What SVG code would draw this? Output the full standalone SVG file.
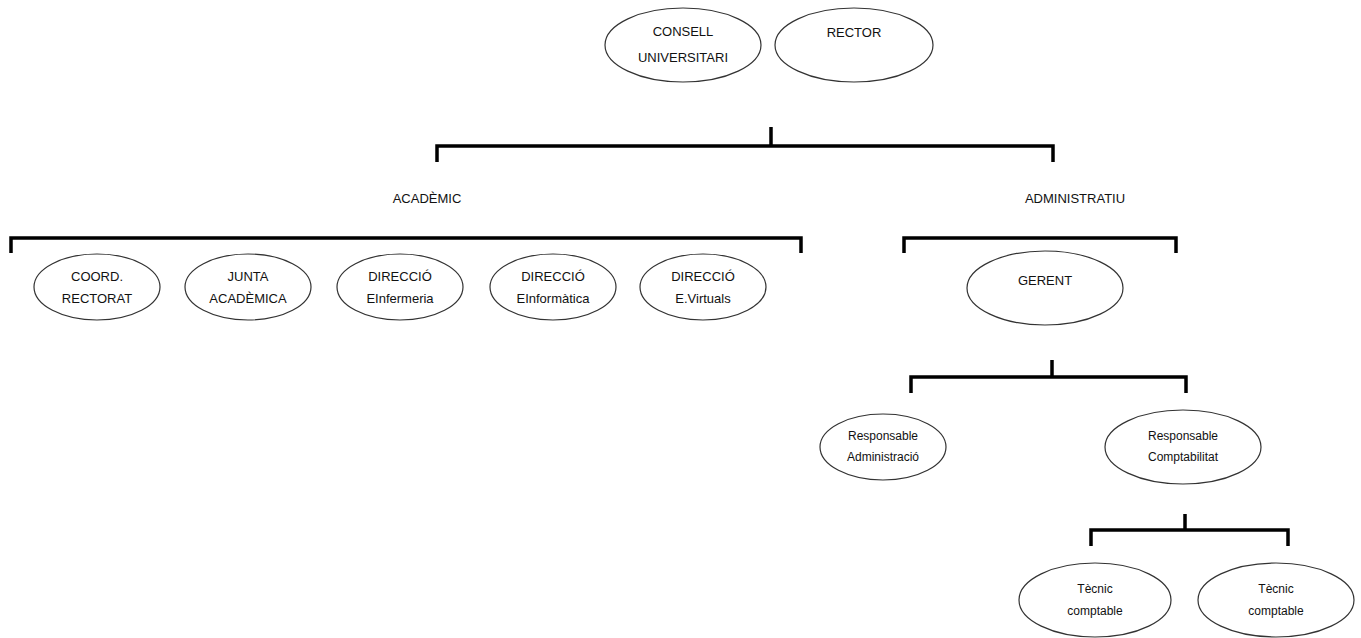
<svg xmlns="http://www.w3.org/2000/svg" width="1361" height="638" viewBox="0 0 1361 638">
<style>
.n{fill:#fff;stroke:#333;stroke-width:1.2}
.t{font-family:"Liberation Sans",Arial,sans-serif;font-size:13px;fill:#111;text-anchor:middle}
.s{font-size:12px}
.b{fill:none;stroke:#000;stroke-width:3.5;stroke-linecap:butt;stroke-linejoin:miter}
</style>
<rect width="1361" height="638" fill="#fff"/>
<g id="connectors">
<path class="b" d="M771 127V146M437 162V146H1053V162"/>
<path class="b" d="M11 253V238H801V253"/>
<path class="b" d="M904 253V238H1176V253"/>
<path class="b" d="M1052 360V377M911 393V377H1186V393"/>
<path class="b" d="M1185 514V530M1091 546V530H1288V546"/>
</g>
<g id="consell"><ellipse class="n" cx="683" cy="45" rx="78" ry="37"/><text class="t" x="683" y="36">CONSELL</text><text class="t" x="683" y="62">UNIVERSITARI</text></g>
<g id="rector"><ellipse class="n" cx="854" cy="45" rx="79" ry="37"/><text class="t" x="854" y="37">RECTOR</text></g>
<g id="academic"><text class="t" x="427" y="203">ACADÈMIC</text></g>
<g id="administratiu"><text class="t" x="1075" y="203">ADMINISTRATIU</text></g>
<g id="coord"><ellipse class="n" cx="97" cy="287" rx="63" ry="33"/><text class="t" x="97" y="281">COORD.</text><text class="t" x="97" y="303">RECTORAT</text></g>
<g id="junta"><ellipse class="n" cx="248" cy="287" rx="63" ry="33"/><text class="t" x="248" y="281">JUNTA</text><text class="t" x="248" y="303">ACADÈMICA</text></g>
<g id="infermeria"><ellipse class="n" cx="400" cy="287" rx="63" ry="33"/><text class="t" x="400" y="281">DIRECCIÓ</text><text class="t" x="400" y="303">EInfermeria</text></g>
<g id="informatica"><ellipse class="n" cx="553" cy="287" rx="63" ry="33"/><text class="t" x="553" y="281">DIRECCIÓ</text><text class="t" x="553" y="303">EInformàtica</text></g>
<g id="virtuals"><ellipse class="n" cx="703" cy="287" rx="63" ry="33"/><text class="t" x="703" y="281">DIRECCIÓ</text><text class="t" x="703" y="303">E.Virtuals</text></g>
<g id="gerent"><ellipse class="n" cx="1045" cy="288" rx="78" ry="37"/><text class="t" x="1045" y="285">GERENT</text></g>
<g id="resp-admin"><ellipse class="n" cx="883" cy="447" rx="63" ry="33"/><text class="t s" x="883" y="440">Responsable</text><text class="t s" x="883" y="461">Administració</text></g>
<g id="resp-compt"><ellipse class="n" cx="1183" cy="447" rx="78" ry="37"/><text class="t s" x="1183" y="440">Responsable</text><text class="t s" x="1183" y="461">Comptabilitat</text></g>
<g id="tecnic1"><ellipse class="n" cx="1095" cy="600" rx="76" ry="37"/><text class="t s" x="1095" y="593">Tècnic</text><text class="t s" x="1095" y="615">comptable</text></g>
<g id="tecnic2"><ellipse class="n" cx="1276" cy="600" rx="78" ry="37"/><text class="t s" x="1276" y="593">Tècnic</text><text class="t s" x="1276" y="615">comptable</text></g>
</svg>
